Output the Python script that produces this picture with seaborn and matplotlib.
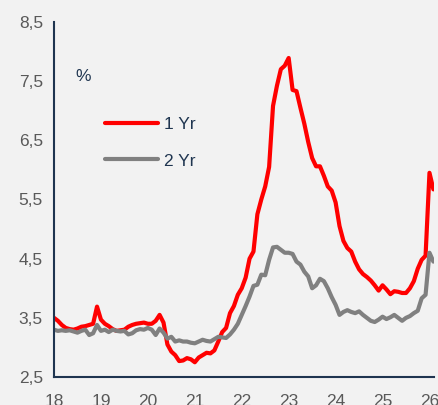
import numpy as np
import pandas as pd
import seaborn as sns
import matplotlib.pyplot as plt

# Monthly yields, Jan 2018 .. Feb 2026 (%)
yield_1yr = [3.50, 3.45, 3.38, 3.33, 3.31, 3.30, 3.32, 3.35, 3.36, 3.38, 3.40, 3.69,
             3.47, 3.40, 3.36, 3.31, 3.28, 3.29, 3.30, 3.35, 3.38, 3.40, 3.41, 3.42,
             3.40, 3.40, 3.45, 3.55, 3.42, 3.05, 2.93, 2.87, 2.77, 2.78, 2.82, 2.80,
             2.75, 2.83, 2.87, 2.91, 2.90, 2.95, 3.10, 3.26, 3.33, 3.58, 3.70, 3.89,
             4.00, 4.18, 4.50, 4.62, 5.25, 5.50, 5.72, 6.05, 7.08, 7.42, 7.70, 7.76,
             7.89, 7.35, 7.33, 7.05, 6.78, 6.47, 6.20, 6.06, 6.06, 5.90, 5.72, 5.65,
             5.45, 5.05, 4.80, 4.68, 4.62, 4.45, 4.32, 4.24, 4.19, 4.13, 4.05, 3.96,
             4.05, 3.98, 3.90, 3.95, 3.94, 3.92, 3.92, 4.00, 4.12, 4.33, 4.48, 4.55,
             5.95, 5.67]
yield_2yr = [3.30, 3.28, 3.29, 3.28, 3.29, 3.27, 3.25, 3.28, 3.30, 3.21, 3.24, 3.38,
             3.28, 3.30, 3.26, 3.30, 3.28, 3.27, 3.28, 3.22, 3.24, 3.29, 3.31, 3.30,
             3.33, 3.30, 3.21, 3.32, 3.25, 3.15, 3.18, 3.10, 3.12, 3.10, 3.10, 3.08,
             3.07, 3.10, 3.13, 3.11, 3.10, 3.14, 3.18, 3.17, 3.16, 3.22, 3.30, 3.40,
             3.55, 3.70, 3.86, 4.04, 4.06, 4.23, 4.22, 4.48, 4.69, 4.70, 4.65, 4.60,
             4.60, 4.58, 4.45, 4.40, 4.28, 4.20, 4.00, 4.05, 4.16, 4.12, 4.00, 3.85,
             3.72, 3.55, 3.60, 3.63, 3.60, 3.58, 3.61, 3.55, 3.50, 3.45, 3.43, 3.47,
             3.52, 3.48, 3.51, 3.55, 3.50, 3.45, 3.50, 3.53, 3.58, 3.62, 3.83, 3.89,
             4.60, 4.45]
year_ticks = [18, 19, 20, 21, 22, 23, 24, 25, 26]
y_ticks = [2.5, 3.5, 4.5, 5.5, 6.5, 7.5, 8.5]

t = 18 + np.arange(len(yield_1yr)) / 12
df = pd.DataFrame({'t': np.concatenate([t, t]),
                   'value': yield_1yr + yield_2yr,
                   'series': ['1 Yr'] * len(t) + ['2 Yr'] * len(t)})

sns.set_style('white')
plt.rcParams['font.family'] = ['Liberation Sans', 'DejaVu Sans']
navy = '#1f3550'
bg = '#f2f2f2'

fig = plt.figure(figsize=(4.39, 4.05), dpi=100, facecolor=bg)
ax = fig.add_axes([0.123, 0.069, 0.866, 0.877], facecolor=bg)
sns.lineplot(data=df, x='t', y='value', hue='series', palette=['#ff0000', '#808080'],
             linewidth=3, ax=ax)

# Axis styling
ax.set_xlim(18, 26.1)
ax.set_ylim(2.5, 8.5)
ax.set_xticks(year_ticks)
ax.set_xticklabels([str(y) for y in year_ticks])
ax.set_yticks(y_ticks)
ax.set_yticklabels([f'{v:.1f}'.replace('.', ',') for v in y_ticks])
ax.set_xlabel(None)
ax.set_ylabel(None)
for side in ['top', 'right']:
    ax.spines[side].set_visible(False)
for side in ['left', 'bottom']:
    ax.spines[side].set_color(navy)
    ax.spines[side].set_linewidth(1.5)
ax.tick_params(direction='in', length=5, width=1.5, color=navy,
               labelcolor='#595959', labelsize=12.5)
ax.tick_params(axis='x', pad=12.5)
ax.tick_params(axis='y', pad=8)

# Legend and unit label
ax.text(0.055, 0.845, '%', transform=ax.transAxes, color=navy, fontsize=12.5, va='center')
leg = ax.legend(loc='upper left', bbox_to_anchor=(0.092, 0.776), frameon=False,
                handlelength=3.1, labelspacing=1.22, handletextpad=0.3, fontsize=12.5)
for txt in leg.get_texts():
    txt.set_color(navy)
for line in leg.get_lines():
    line.set_linewidth(3)

fig.savefig('out.png', dpi=100, facecolor=bg)
